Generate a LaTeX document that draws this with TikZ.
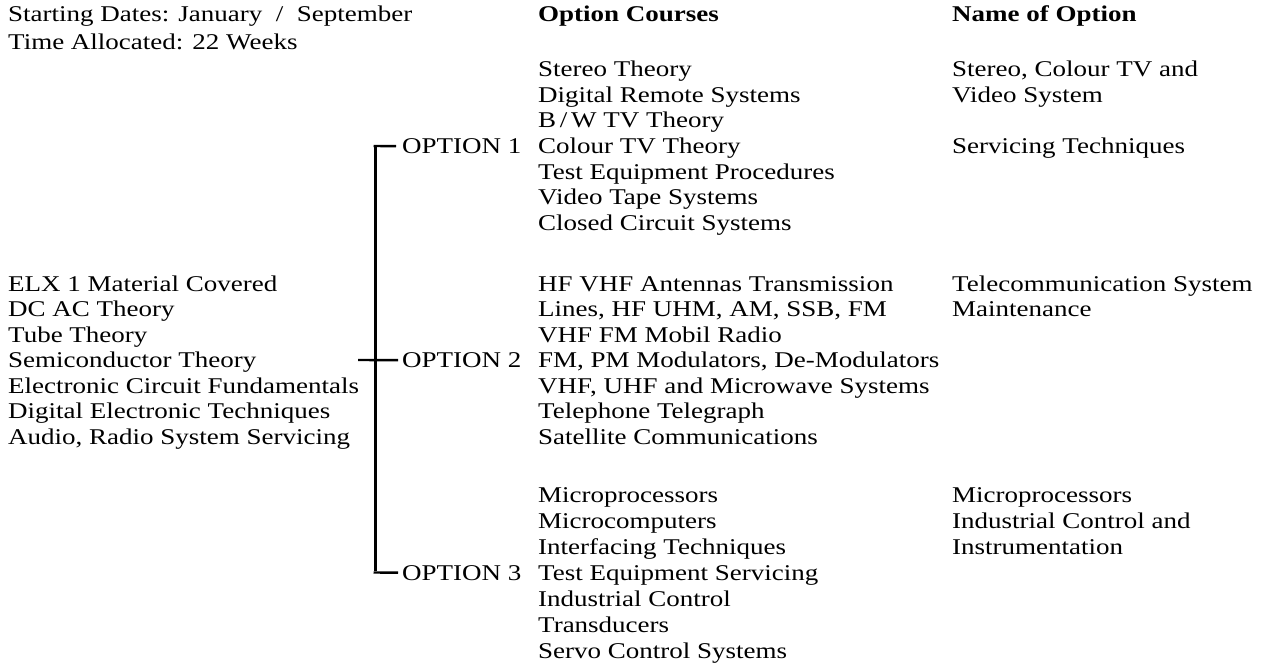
\documentclass[tikz,border=0pt]{standalone}
\usepackage{fontspec}
\setmainfont{Liberation Serif}[FakeStretch=1.2]
\begin{document}
\begin{tikzpicture}[x=1pt,y=-1pt,
  txt/.style={anchor=base west,inner sep=0pt,font=\fontsize{22.5}{24.5}\selectfont},
  head/.style={txt,font=\fontsize{22.5}{24.5}\selectfont\bfseries},
  spine/.style={line width=3pt,line cap=butt},
  stub/.style={line width=2.4pt}]
\fill[white] (0,0) rectangle (1273,666);
\useasboundingbox (0,0) rectangle (1273,666);
% header
\node[txt]  (sd) at (8,22) {Starting Dates: January\ \ /\ \ September};
\node[txt]  (ta) at (8,50) {Time Allocated: 22 Weeks};
\node[head] (hc) at (538,22) {Option Courses};
\node[head] (hn) at (952,22) {Name of Option};
% option 1 courses
\node[txt] (c11) at (538,77)    {Stereo Theory};
\node[txt] (c12) at (538,102.5) {Digital Remote Systems};
\node[txt] (c13) at (538,128)   {B\,/\,W TV Theory};
\node[txt] (c14) at (538,153.5) {Colour TV Theory};
\node[txt] (c15) at (538,179)   {Test Equipment Procedures};
\node[txt] (c16) at (538,204.5) {Video Tape Systems};
\node[txt] (c17) at (538,230)   {Closed Circuit Systems};
\node[txt] (n11) at (952,77)    {Stereo, Colour TV and};
\node[txt] (n12) at (952,102.5) {Video System};
\node[txt] (n14) at (952,153.5) {Servicing Techniques};
% option 2 courses
\node[txt] (c21) at (538,291)   {HF VHF Antennas Transmission};
\node[txt] (c22) at (538,316.5) {Lines, HF UHM, AM, SSB, FM};
\node[txt] (c23) at (538,342)   {VHF FM Mobil Radio};
\node[txt] (c24) at (538,367.5) {FM, PM Modulators, De-Modulators};
\node[txt] (c25) at (538,393)   {VHF, UHF and Microwave Systems};
\node[txt] (c26) at (538,418.5) {Telephone Telegraph};
\node[txt] (c27) at (538,444)   {Satellite Communications};
\node[txt] (n21) at (952,291)   {Telecommunication System};
\node[txt] (n22) at (952,316.5) {Maintenance};
% left column
\node[txt] (l1) at (8,291)   {ELX 1 Material Covered};
\node[txt] (l2) at (8,316.5) {DC AC Theory};
\node[txt] (l3) at (8,342)   {Tube Theory};
\node[txt] (l4) at (8,367.5) {Semiconductor Theory};
\node[txt] (l5) at (8,393)   {Electronic Circuit Fundamentals};
\node[txt] (l6) at (8,418.5) {Digital Electronic Techniques};
\node[txt] (l7) at (8,444)   {Audio, Radio System Servicing};
% option 3 courses
\node[txt] (c31) at (538,502)   {Microprocessors};
\node[txt] (c32) at (538,528)   {Microcomputers};
\node[txt] (c33) at (538,554)   {Interfacing Techniques};
\node[txt] (c34) at (538,580)   {Test Equipment Servicing};
\node[txt] (c35) at (538,606)   {Industrial Control};
\node[txt] (c36) at (538,632)   {Transducers};
\node[txt] (c37) at (538,658)   {Servo Control Systems};
\node[txt] (n31) at (952,502)   {Microprocessors};
\node[txt] (n32) at (952,528)   {Industrial Control and};
\node[txt] (n33) at (952,554)   {Instrumentation};
% options
\node[txt] (o1) at (402,153.5) {OPTION 1};
\node[txt] (o2) at (402,367.5) {OPTION 2};
\node[txt] (o3) at (402,580)   {OPTION 3};
% bracket
\coordinate (jt) at (375,146);
\coordinate (jb) at (375,572.5);
\coordinate (lm) at (358,360);
\draw[spine] ([yshift=-1.2pt]jt) -- ([yshift=1.2pt]jb);
\draw[stub] ([xshift=-1.5pt]jt) -- ([xshift=-6pt]o1.west);
\draw[stub] (lm) -- ([xshift=-4pt]o2.west);
\draw[stub] ([xshift=-1.5pt]jb) -- ([xshift=-4pt]o3.west);
\end{tikzpicture}
\end{document}
